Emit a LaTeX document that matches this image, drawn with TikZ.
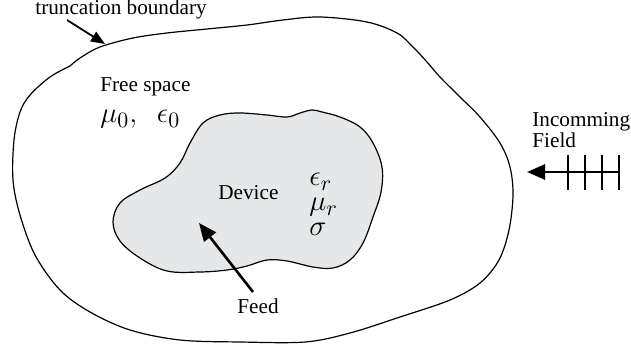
\documentclass[tikz,border=0pt]{standalone}
\usepackage[no-math]{fontspec}
\setmainfont{Liberation Serif}
\usetikzlibrary{arrows.meta}
\definecolor{devgray}{HTML}{E6E7E8}
\tikzset{
  lbl/.style={inner sep=0pt, font=\fontsize{10.6}{12.7}\selectfont},
  mth/.style={inner sep=0pt, anchor=base west, font=\fontsize{15}{18}\selectfont},
  boundary/.style={line width=0.6pt},
  bigarrow/.style={line width=1.3pt, -{Triangle[length=9pt,width=7.5pt]}},
  smallarrow/.style={line width=0.9pt, -{Triangle[length=7pt,width=5.5pt]}},
  tick/.style={line width=1.2pt}
}
\begin{document}
\begin{tikzpicture}[x=0.5pt,y=-0.5pt]
\useasboundingbox (0,0) rectangle (631,347);
% outer truncation boundary
\draw[boundary] plot[smooth, tension=0.55] coordinates {
 (70,66) (80,58) (100,47) (133,38) (167,33) (207,29) (247,25) (283,20) (320,17)
 (367,22) (397,33) (413,47) (427,62) (440,77) (460,97) (480,117) (500,143) (510,167)
 (513,195) (509,230) (499,260) (480,283) (450,300) (400,317) (350,333) (305,342)
 (240,342) (180,340) (130,330) (90,312) (60,290) (35,255) (20,215) (13,180) (14,140)
 (20,112) (30,95) (50,77) (70,66)};
% device
\draw[boundary, fill=devgray] plot[smooth cycle, tension=0.6] coordinates {
 (203,123) (220,115) (240,113) (267,115) (287,117) (300,113) (312,110) (322,112)
 (340,117) (360,127) (373,143) (382,167) (381,192) (373,217) (363,243) (350,260)
 (333,268) (313,267) (287,261) (267,260) (247,266) (227,270) (200,272) (167,271)
 (140,258) (120,241) (113,222) (120,203) (140,190) (165,178) (180,163) (190,143)};
% texts
\node[lbl, anchor=base west] (trunc) at (35,15) {truncation boundary};
\node[lbl, anchor=base west] (free) at (100,92) {Free space};
\node[mth] (mu0) at (100,123) {$\mu_0,\ \ \epsilon_0$};
\node[lbl, anchor=base west] (dev) at (218,199) {Device};
\node[mth, anchor=north west, align=left, font=\fontsize{15}{12.5}\selectfont] (props) at (309,173)
  {$\epsilon_r$\\$\mu_r$\\$\sigma$};
\node[lbl, anchor=base west] (feed) at (237,313) {Feed};
\node[lbl, anchor=base west] (inc) at (532,127) {Incomming};
\node[lbl, anchor=base west] (fld) at (532,148) {Field};
% arrows
\coordinate (ta) at (67,20);
\coordinate (tb) at (105,44);
\draw[smallarrow] (ta) -- (tb);
\coordinate (fa) at (253,292);
\coordinate (fb) at (199,223);
\draw[bigarrow] (fa) -- (fb);
\coordinate (ia) at (620,172);
\coordinate (ib) at (527,172);
\draw[bigarrow] (ia) -- (ib);
\foreach \x [count=\i] in {568,585,602,619} {
  \coordinate (t\i a) at (\x,155);
  \coordinate (t\i b) at (\x,190);
  \draw[tick] (t\i a) -- (t\i b);
}
\end{tikzpicture}
\end{document}
